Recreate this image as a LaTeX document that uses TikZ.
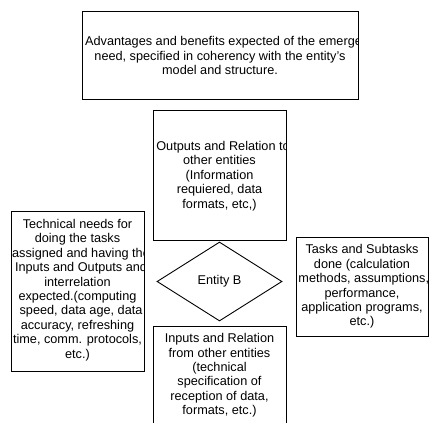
\documentclass[tikz,border=0pt]{standalone}
\usepackage{fontspec}
\setmainfont{Liberation Sans}
\usetikzlibrary{shapes.geometric}
\tikzset{
  boxshape/.style={draw=black, line width=0.9pt, rectangle, inner sep=0pt},
  txt/.style={align=center, inner sep=0pt, font=\fontsize{12.7}{14.4}\selectfont, text=black},
}
\begin{document}
\begin{tikzpicture}[x=1pt, y=-1pt]
\clip (0,0) rectangle (429,423);
\useasboundingbox (0,0) rectangle (429,423);

% top box
\node[boxshape, minimum width=276pt, minimum height=88pt] (top) at (220,55) {};
\begin{scope}
\clip (top.south west) rectangle (top.north east);
\node[txt] (toptxt) at (220,55.5) {Advantages and benefits expected of the emerg\rlap{ency}\\need, specified in coherency with the entity{\char"0027}s\\model and structure.};
\end{scope}

% outputs box
\node[boxshape, minimum width=133pt, minimum height=130pt] (outb) at (219.5,175) {};
\begin{scope}
\clip (outb.south west) rectangle (outb.north east);
\node[txt] (outtxt) at (219.5,176) {Outputs and Relation t\rlap{o}\\other entities\\(Information\\requiered, data\\formats, etc,)};
\end{scope}

% diamond
\node[draw=black, line width=0.9pt, shape=diamond, inner sep=0pt, minimum width=125pt, minimum height=79pt, font=\fontsize{12.7}{14.4}\selectfont] (ent) at (219.5,281.5) {Entity B};

% inputs box
\node[boxshape, minimum width=133pt, minimum height=99pt] (inb) at (219.5,375.5) {};
\begin{scope}
\clip (inb.south west) rectangle (inb.north east);
\node[txt] (intxt) at (219.5,375.5) {Inputs and Relation\\from other entities\\(technical\\specification of\\reception of data,\\formats, etc.)};
\end{scope}

% left box
\node[boxshape, minimum width=133pt, minimum height=160pt] (lb) at (77.5,291) {};
\begin{scope}
\clip (lb.south west) rectangle (lb.north east);
\node[txt] (ltxt) at (77.5,290) {Technical needs for\\doing the tasks\\assigned and having th\rlap{e}\\Inputs and Outputs an\rlap{d}\\interrelation\\expected.(computing\\speed, data age, dat\rlap{a}\\accuracy, refreshing\\time, comm. protocols,\\etc.)};
\end{scope}

% right box
\node[boxshape, minimum width=132pt, minimum height=99pt] (rb) at (362,286.5) {};
\begin{scope}
\clip (rb.south west) rectangle (rb.north east);
\node[txt] (rtxt) at (362,286.7) {Tasks and Subtasks\\done (calculation\\methods, assumptions\rlap{,}\\performance,\\application programs,\\etc.)};
\end{scope}
\end{tikzpicture}
\end{document}
